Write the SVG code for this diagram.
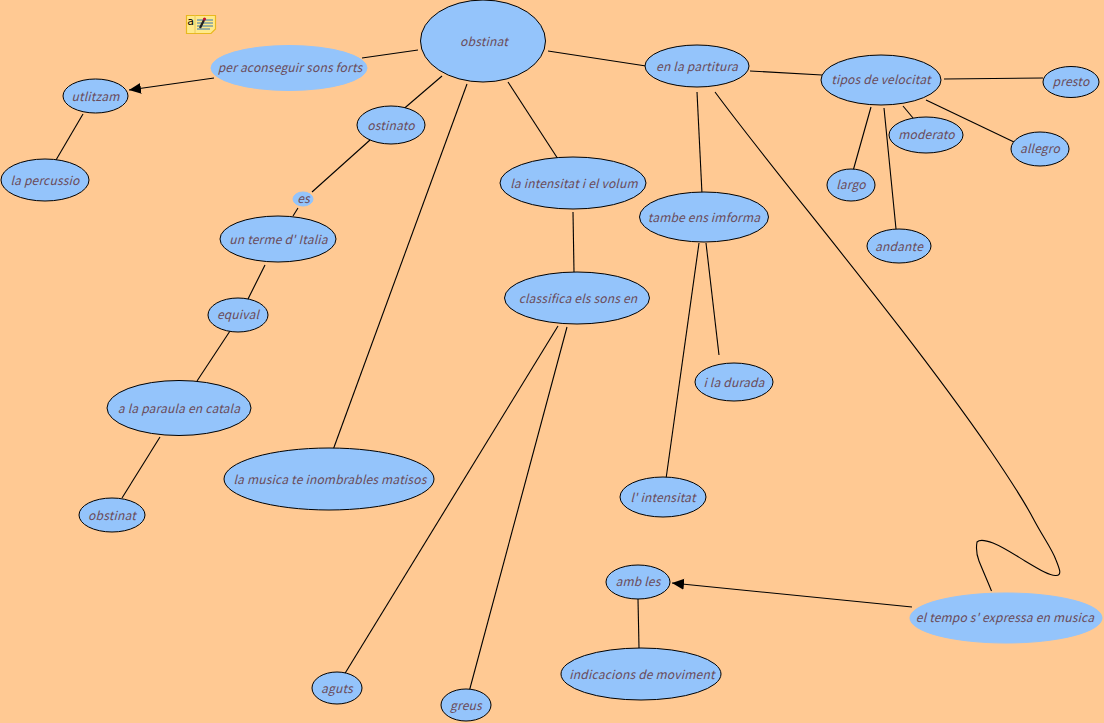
<svg xmlns="http://www.w3.org/2000/svg" width="1104" height="723" viewBox="0 0 1104 723">
<style>
.n{fill:#94c4fb;stroke:#000;stroke-width:1}
.m{fill:#94c4fb;stroke:#94c4fb;stroke-width:1}
.l{fill:none;stroke:#000;stroke-width:1.1}
text{font-family:"Noto Sans CJK JP","Noto Sans",sans-serif;font-style:italic;font-size:12px;fill:#6a4a58;text-anchor:middle;letter-spacing:.2px}
.i{font-family:"DejaVu Sans",sans-serif;font-style:normal;font-size:11px;fill:#000;letter-spacing:0}
</style>
<defs><marker id="a" markerUnits="userSpaceOnUse" markerWidth="13" markerHeight="12" refX="12" refY="5.5" orient="auto"><path d="M0 0L12 5.5L0 11Z" fill="#000"/></marker></defs>
<rect width="1104" height="723" fill="#ffc993"/>
<g id="connectors">
<path class="l" d="M362 58L418 50"/>
<path class="l" d="M214 78L129 90" marker-end="url(#a)"/>
<path class="l" d="M83 114L56 160"/>
<path class="l" d="M548 51L646 66"/>
<path class="l" d="M750 71L822 75"/>
<path class="l" d="M944 79L1043 78"/>
<path class="l" d="M926 100L1014 142"/>
<path class="l" d="M903 106L913 118"/>
<path class="l" d="M884 108L896 229"/>
<path class="l" d="M871 107L853 171"/>
<path class="l" d="M442 76L400 112"/>
<path class="l" d="M370 140L312 192"/>
<path class="l" d="M298 208L293 216"/>
<path class="l" d="M265 265L248 299"/>
<path class="l" d="M230 331L197 381"/>
<path class="l" d="M160 437L122 498"/>
<path class="l" d="M467 84L333 450"/>
<path class="l" d="M508 82L558 159"/>
<path class="l" d="M573 212L574 272"/>
<path class="l" d="M558 326L344 675"/>
<path class="l" d="M567 327L469 692"/>
<path class="l" d="M697 92L702 194"/>
<path class="l" d="M699 243L666 479"/>
<path class="l" d="M706 243L719 355"/>
<path class="l" d="M715 92C780 180 900 320 990 450C1005 472 1022 497 1034 520C1043 537 1052 549 1056 560C1060 570 1062 575 1056 575.500C1050 576 1040 570 1025 561C1012 553 1003 547 993 543C985 540 979 540 977 542C976 548 977 556 979 561C983 571 988 582 991.500 591"/>
<path class="l" d="M912 607L672 583" marker-end="url(#a)"/>
<path class="l" d="M638 599L639 648"/>
</g>
<g id="note"><path d="M186.500 15.500H215.500V29L211 33.500H186.500Z" fill="#ffe98a" stroke="#e8b820" stroke-width="1.200"/><path d="M195 15.500V33" stroke="#e8c860" fill="none"/><path d="M197 20H213M197 23H213M197 26H213M197 29H210" stroke="#3878b0" fill="none"/><path d="M200 28L204 20" stroke="#222" stroke-width="2.200" fill="none"/><circle cx="204.500" cy="19" r="1.600" fill="#c01030"/><text class="i" x="190.500" y="25">a</text></g>
<g id="n1"><ellipse class="n" cx="483" cy="41" rx="62.500" ry="41"/><text x="484" y="46">obstinat</text></g>
<g id="n2"><ellipse class="m" cx="289" cy="68" rx="78" ry="22.500"/><text x="290" y="72">per aconseguir sons forts</text></g>
<g id="n3"><ellipse class="n" cx="95.500" cy="96" rx="32.500" ry="17"/><text x="95.500" y="101">utlitzam</text></g>
<g id="n4"><ellipse class="n" cx="45" cy="180" rx="44" ry="21"/><text x="45" y="185">la percussio</text></g>
<g id="n5"><ellipse class="n" cx="391" cy="125" rx="34" ry="19"/><text x="391" y="130">ostinato</text></g>
<g id="n6"><ellipse class="m" cx="303" cy="199" rx="10" ry="7"/><text x="303.500" y="203">es</text></g>
<g id="n7"><ellipse class="n" cx="278" cy="239" rx="58" ry="23"/><text x="278.500" y="244">un terme d' Italia</text></g>
<g id="n8"><ellipse class="n" cx="238" cy="315" rx="30" ry="17"/><text x="238" y="319">equival</text></g>
<g id="n9"><ellipse class="n" cx="179" cy="408" rx="72" ry="27.500"/><text x="179" y="413">a la paraula en catala</text></g>
<g id="n10"><ellipse class="n" cx="112" cy="515" rx="33" ry="17"/><text x="112" y="520">obstinat</text></g>
<g id="n11"><ellipse class="n" cx="329" cy="479" rx="105" ry="31"/><text x="330" y="484">la musica te inombrables matisos</text></g>
<g id="n12"><ellipse class="n" cx="573" cy="183" rx="73" ry="26"/><text x="574" y="188">la intensitat i el volum</text></g>
<g id="n13"><ellipse class="n" cx="577" cy="298" rx="72.500" ry="26"/><text x="578" y="303">classifica els sons en</text></g>
<g id="n14"><ellipse class="n" cx="337" cy="688" rx="25" ry="16"/><text x="337" y="693">aguts</text></g>
<g id="n15"><ellipse class="n" cx="466" cy="705" rx="25" ry="16"/><text x="466" y="710">greus</text></g>
<g id="n16"><ellipse class="n" cx="697" cy="66" rx="52" ry="21"/><text x="697" y="71">en la partitura</text></g>
<g id="n17"><ellipse class="n" cx="881" cy="80" rx="60" ry="25"/><text x="881" y="84">tipos de velocitat</text></g>
<g id="n18"><ellipse class="n" cx="1071" cy="82" rx="28" ry="15.500"/><text x="1071" y="86">presto</text></g>
<g id="n19"><ellipse class="n" cx="1040" cy="149" rx="29" ry="17"/><text x="1040" y="153">allegro</text></g>
<g id="n20"><ellipse class="n" cx="926" cy="135" rx="37" ry="18"/><text x="926.500" y="139">moderato</text></g>
<g id="n21"><ellipse class="n" cx="851" cy="185" rx="24" ry="16"/><text x="851" y="189">largo</text></g>
<g id="n22"><ellipse class="n" cx="899" cy="246" rx="32" ry="17"/><text x="899" y="251">andante</text></g>
<g id="n23"><ellipse class="n" cx="704" cy="217" rx="64.500" ry="25"/><text x="704" y="222">tambe ens imforma</text></g>
<g id="n24"><ellipse class="n" cx="734" cy="382" rx="39" ry="19"/><text x="734" y="387">i la durada</text></g>
<g id="n25"><ellipse class="n" cx="663" cy="497" rx="43" ry="20"/><text x="663" y="502">l' intensitat</text></g>
<g id="n26"><ellipse class="n" cx="638" cy="582" rx="32" ry="17"/><text x="638" y="586">amb les</text></g>
<g id="n27"><ellipse class="n" cx="641" cy="674" rx="80" ry="26"/><text x="642" y="679">indicacions de moviment</text></g>
<g id="n28"><ellipse class="m" cx="1006" cy="618" rx="96" ry="25"/><text x="1005" y="622">el tempo s' expressa en musica</text></g>
</svg>
